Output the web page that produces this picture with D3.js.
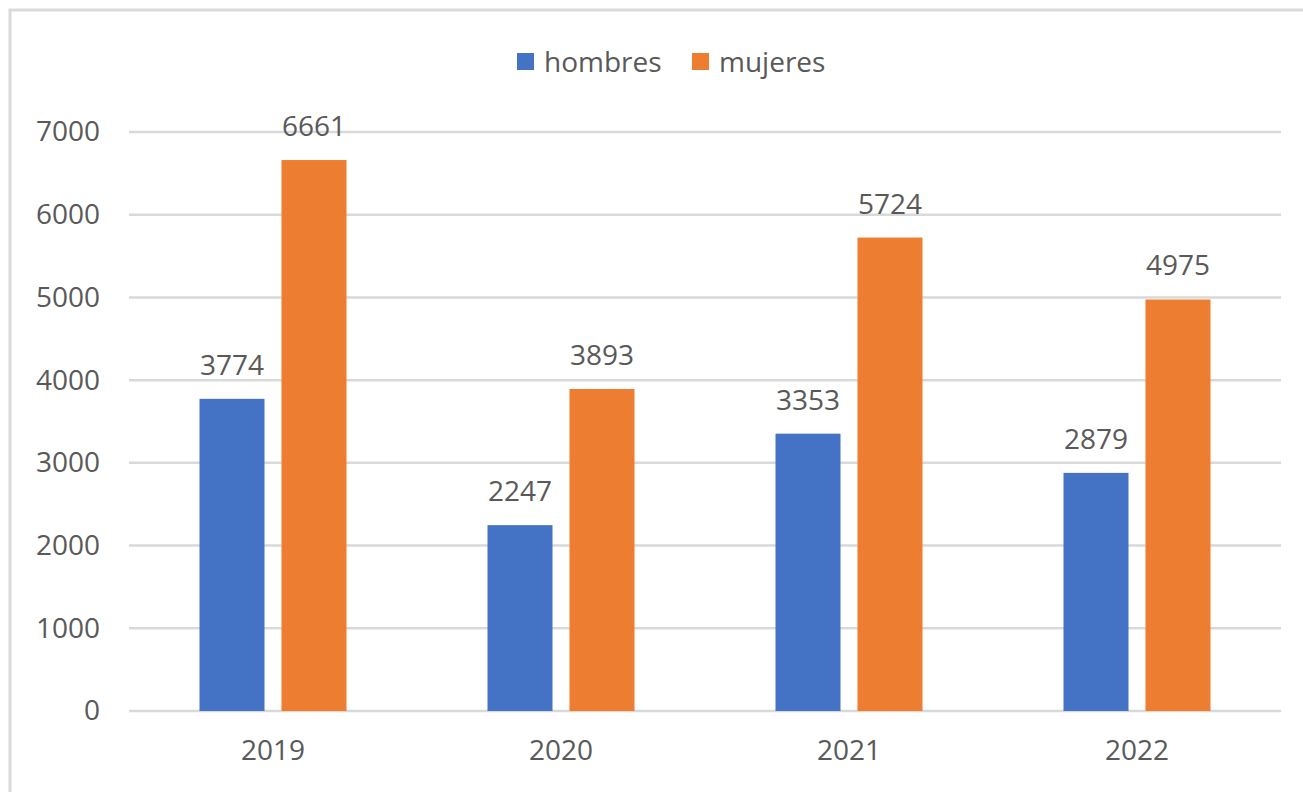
<!DOCTYPE html>
<html><head><meta charset="utf-8">
<script src="https://cdn.jsdelivr.net/npm/d3@7"></script>
<style>body{margin:0;background:#fff}svg{display:block}text{font-family:"Open Sans",sans-serif;fill:#595959}</style>
</head><body><svg id="c" width="1303" height="792"></svg>
<script>
const categories = ["2019","2020","2021","2022"];
const hombres = [3774, 2247, 3353, 2879];
const mujeres = [6661, 3893, 5724, 4975];
const seriesNames = ["hombres","mujeres"];
const colors = ["#4472C4","#ED7D31"];
const yTicks = [0,1000,2000,3000,4000,5000,6000,7000];

(function(){
const svg = d3.select("#c");
svg.append("rect").attr("x",10).attr("y",10).attr("width",1400).attr("height",900)
  .attr("fill","#fff").attr("stroke","#d9d9d9").attr("stroke-width",3);

const pLeft=129, pRight=1281, pTop=132, pBottom=711;
const fs = 28;
const x = d3.scaleBand().domain(categories).range([pLeft,pRight]);
const y = d3.scaleLinear().domain([0,7000]).range([pBottom,pTop]);
const barW = 65, gap = 17;
const xs = d3.scaleBand().domain(seriesNames).range([0, 2*barW+gap]).paddingInner(gap/(barW+gap));

svg.append("g").selectAll("line").data(yTicks).join("line")
  .attr("x1",pLeft).attr("x2",pRight).attr("y1",d=>y(d)).attr("y2",d=>y(d))
  .attr("stroke","#d9d9d9").attr("stroke-width",2.5);

const yAxis = d3.axisLeft(y).tickValues(yTicks).tickSize(0).tickPadding(0).tickFormat(d3.format("d"));
const ga = svg.append("g").attr("transform",`translate(${pLeft-29},0)`).call(yAxis);
ga.select(".domain").remove();
ga.selectAll("text").attr("font-size",fs).attr("font-family","'Open Sans',sans-serif").attr("fill","#595959");

const xAxis = d3.axisBottom(x).tickSize(0).tickPadding(0);
const gx = svg.append("g").attr("transform",`translate(0,${pBottom+29})`).call(xAxis);
gx.select(".domain").remove();
gx.selectAll("text").attr("font-size",fs).attr("font-family","'Open Sans',sans-serif").attr("fill","#595959").attr("dy","0.71em");

const data = categories.map((c,i)=>({c, vals:[hombres[i],mujeres[i]]}));
const groupOff = (x.bandwidth() - (2*barW+gap))/2;
const g = svg.append("g").selectAll("g").data(data).join("g")
  .attr("transform",d=>`translate(${x(d.c)+groupOff},0)`);
g.selectAll("rect").data(d=>d.vals.map((v,j)=>({v,s:seriesNames[j],j}))).join("rect")
  .attr("x",d=>xs(d.s)).attr("width",xs.bandwidth())
  .attr("y",d=>y(d.v)).attr("height",d=>pBottom-y(d.v))
  .attr("fill",d=>colors[d.j]);
g.selectAll("text.v").data(d=>d.vals.map((v,j)=>({v,s:seriesNames[j],j}))).join("text")
  .attr("class","v").attr("x",d=>xs(d.s)+xs.bandwidth()/2).attr("y",d=>y(d.v)-24)
  .attr("text-anchor","middle").attr("font-size",fs).text(d=>d.v);

const lg = svg.append("g");
const legX = [517, 692];
seriesNames.forEach((s,i)=>{
  lg.append("rect").attr("x",legX[i]).attr("y",53).attr("width",17).attr("height",17).attr("fill",colors[i]);
  lg.append("text").attr("x",legX[i]+27).attr("y",62).attr("dy","0.35em").attr("font-size",fs).text(s);
});
})();
</script></body></html>
